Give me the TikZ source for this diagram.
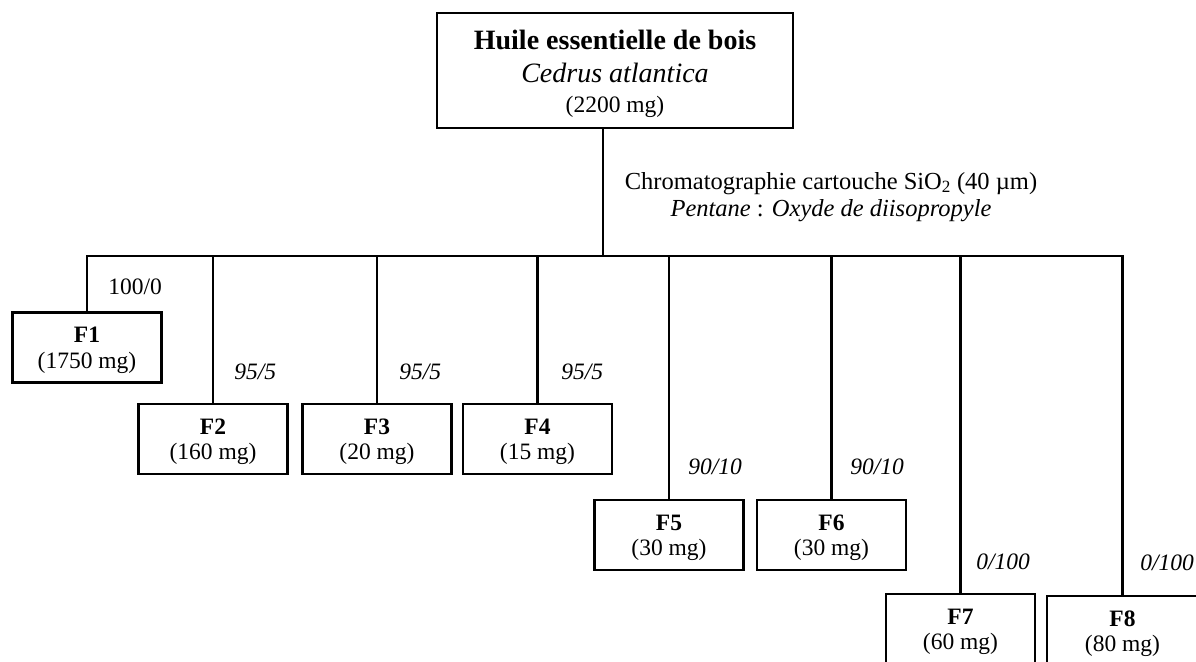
\documentclass[tikz,border=0pt]{standalone}
\usepackage{fontspec}
\setmainfont{Liberation Serif}
\begin{document}
\begin{tikzpicture}[x=1pt,y=-1pt,
  line width=2.8pt,
  fbox/.style={draw, rectangle, minimum width=149pt, minimum height=70pt, inner sep=0pt,
    align=center, font=\fontsize{23.5}{25.5}\selectfont},
  topbox/.style={draw, rectangle, minimum width=356pt, minimum height=115pt, inner sep=0pt,
    align=center, font=\fontsize{28}{32}\selectfont},
  lbl/.style={anchor=west, inner sep=0pt, font=\fontsize{23.5}{25}\selectfont\itshape},
  note/.style={inner sep=0pt, align=center, font=\fontsize{24.5}{27.5}\selectfont}
]
\useasboundingbox (0,0) rectangle (1196,661);
\clip (0,0) rectangle (1196,661);

\node[topbox] (top) at (615,70.5) {%
  \rule{0pt}{27pt}\textbf{Huile essentielle de bois}\\[1pt]
  \textit{Cedrus atlantica}\\[-2pt]
  {\fontsize{23.5}{28}\selectfont (2200 mg)}};

\coordinate (bus) at (603,256);

\newcommand{\fr}[2]{\rule{0pt}{21.5pt}\textbf{#1}\\(#2)}
\node[fbox] (f1) at (87,347.5)   {\fr{F1}{1750 mg}};
\node[fbox] (f2) at (213,439)    {\fr{F2}{160 mg}};
\node[fbox] (f3) at (377,439)    {\fr{F3}{20 mg}};
\node[fbox] (f4) at (537.5,439)  {\fr{F4}{15 mg}};
\node[fbox] (f5) at (669,535)    {\fr{F5}{30 mg}};
\node[fbox] (f6) at (831.5,535)  {\fr{F6}{30 mg}};
\node[fbox] (f7) at (960.5,629)  {\fr{F7}{60 mg}};
\node[fbox, minimum width=151pt] (f8) at (1122.5,631) {\fr{F8}{80 mg}};

\draw (bus |- top.south) -- (bus);
\draw (f1.north) -- (f1.north |- bus) -- (f8.north |- bus) -- (f8.north);
\foreach \n in {f2,f3,f4,f5,f6,f7} \draw (\n.north |- bus) -- (\n.north);

\node[note] (chrom) at (831,197) {Chromatographie cartouche SiO\textsubscript{2} (40 µm)\\
  \textit{Pentane} : \textit{Oxyde de diisopropyle}};

\node[lbl, font=\fontsize{23.5}{25}\selectfont] (l1) at (107,287) {100/0};
\node[lbl] (l2) at (233,372) {95/5};
\node[lbl] (l3) at (398,372) {95/5};
\node[lbl] (l4) at (560,372) {95/5};
\node[lbl] (l5) at (687,467) {90/10};
\node[lbl] (l6) at (849,467) {90/10};
\node[lbl] (l7) at (975,562) {0/100};
\node[lbl] (l8) at (1139,563) {0/100};
\end{tikzpicture}
\end{document}
